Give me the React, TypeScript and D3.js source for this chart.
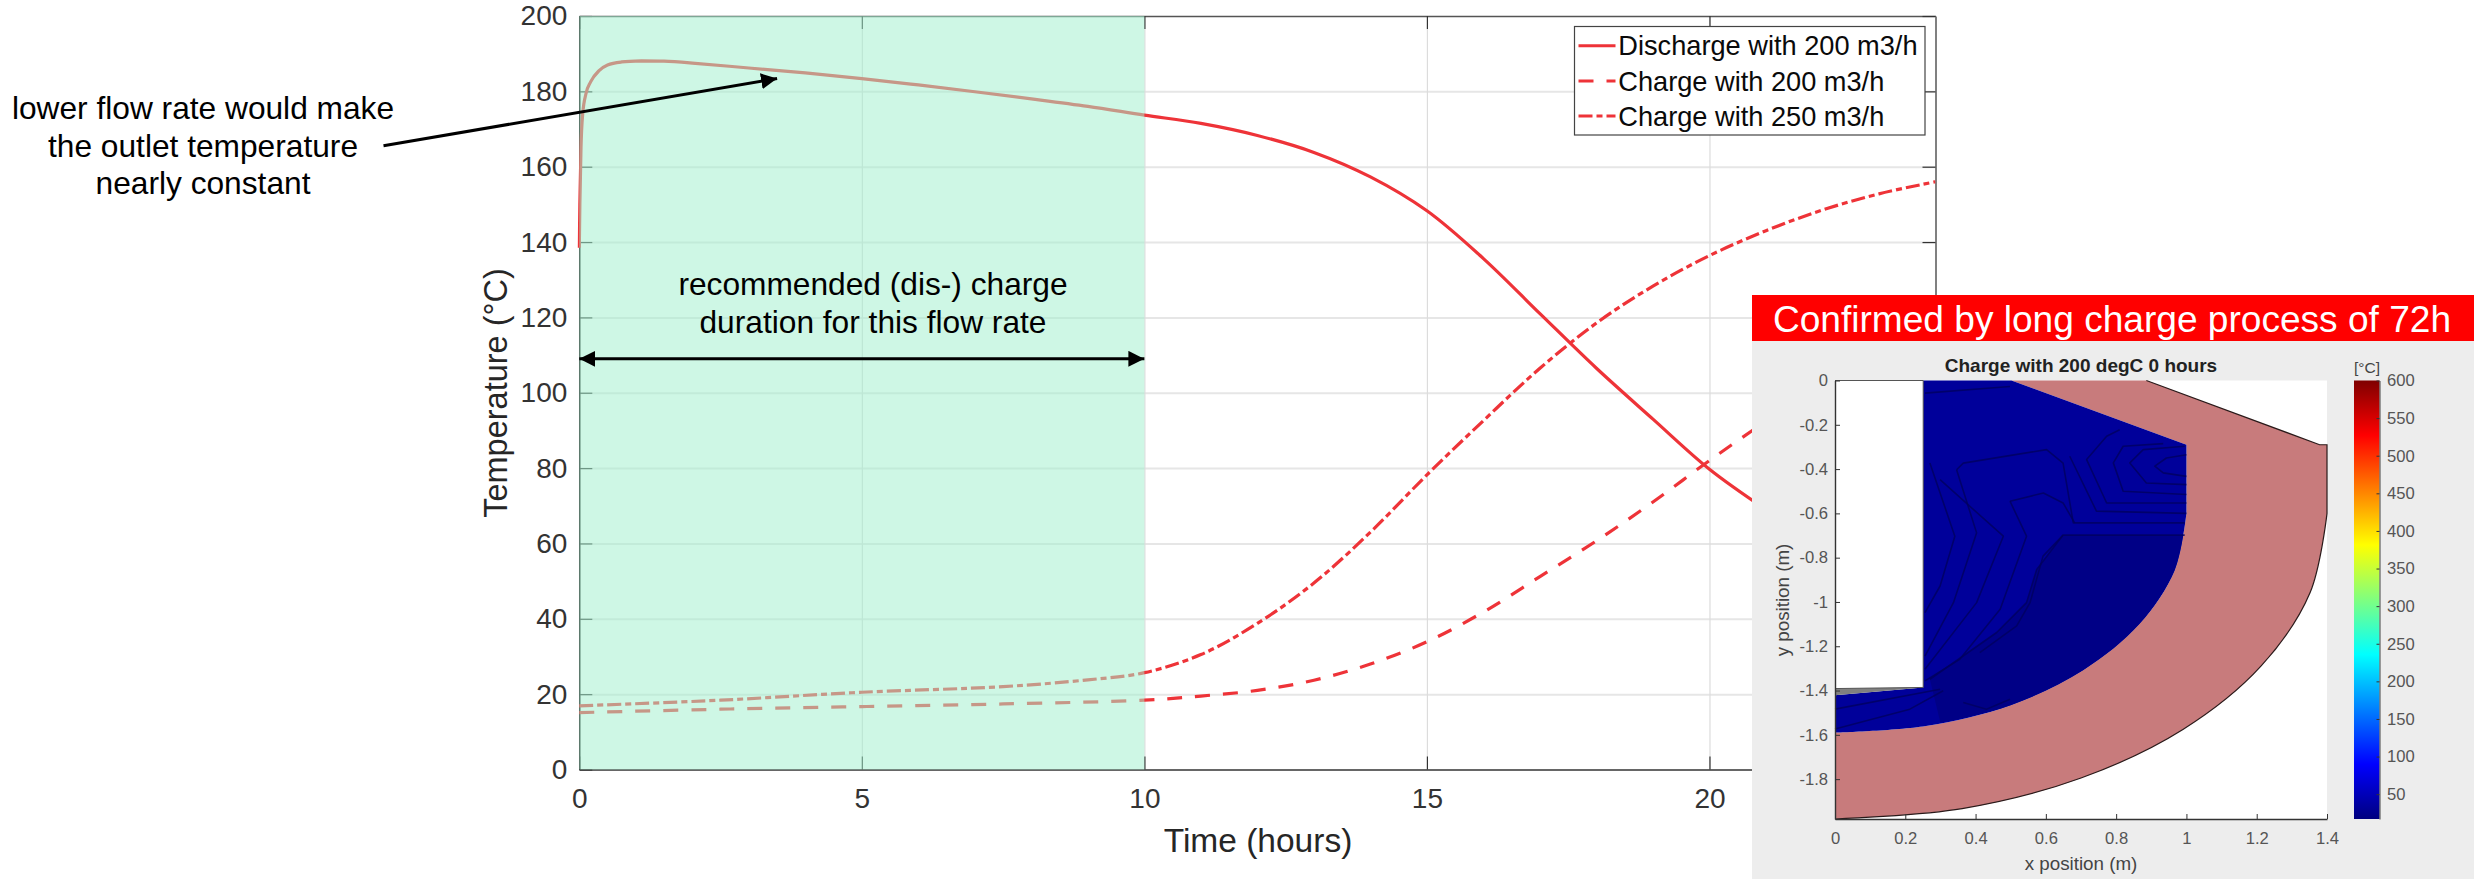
import React, { useEffect, useRef } from 'react'
import * as d3 from 'd3'

type Pt = [number, number]

const xTicks = [0, 5, 10, 15, 20]
const yTicks = [0, 20, 40, 60, 80, 100, 120, 140, 160, 180, 200]

// [hours, degC]
const dischargeRise: Pt[] = [
  [0, 138.5], [0.01, 150], [0.03, 165], [0.06, 174], [0.12, 179.5], [0.2, 182.5], [0.35, 185.5], [0.5, 187],
  [0.75, 187.8], [1.1, 188.1],
]
const dischargeFall: Pt[] = [
  [1.1, 188.1], [1.5, 188], [2, 187.5], [3, 186.2], [4, 184.9], [5, 183.4], [6, 181.7], [7, 179.9],
  [8, 178], [9, 176], [10, 173.7], [11, 171.5], [12, 168.3], [13, 163.8], [14, 157.3], [15, 148.3],
  [16, 135.6], [17, 121], [18, 106.5], [19, 93], [20, 79.7], [21, 69],
]
const charge200: Pt[] = [
  [0, 15.1], [2.5, 16], [5, 16.7], [7.5, 17.4], [10, 18.4], [11, 19.5], [12, 21], [13, 23.7],
  [14, 28], [15, 33.9], [16, 41.8], [17, 51.2], [18, 60.7], [19, 71], [20, 82], [21, 92.5],
]
const charge250: Pt[] = [
  [0, 16.9], [2.5, 18.4], [5, 20.5], [7.5, 22], [9, 23.8], [10, 25.7], [11, 30.5], [12, 38.8],
  [13, 49.5], [14, 63], [15, 78.2], [16, 92.6], [17, 106.5], [18, 118.5], [19, 128.3], [20, 136.4],
  [21, 143], [22, 148.5], [23, 152.8], [24, 156],
]
const legendNames = ['Discharge with 200 m3/h', 'Charge with 200 m3/h', 'Charge with 250 m3/h']
const dashes = ['none', '15 13', '14 4 6 4']

const noteLeft = ['lower flow rate would make', 'the outlet temperature', 'nearly constant']
const noteRange = ['recommended (dis-) charge', 'duration for this flow rate']
const rangeHours: [number, number] = [0, 10]

// inset: cross-section in metres
const insetXTicks = [0, 0.2, 0.4, 0.6, 0.8, 1, 1.2, 1.4]
const insetYTicks = [0, -0.2, -0.4, -0.6, -0.8, -1, -1.2, -1.4, -1.6, -1.8]
const barTicks = [50, 100, 150, 200, 250, 300, 350, 400, 450, 500, 550, 600]
const jet = ['#00007f', '#0000ff', '#00ffff', '#ffff00', '#ff0000', '#7f0000']
const jetAt = [0, 0.125, 0.375, 0.625, 0.875, 1]

const outerArc: Pt[] = [
  [0, -1.98], [0.362, -1.933], [0.7, -1.795], [0.99, -1.576], [1.212, -1.29], [1.352, -0.957], [1.4, -0.6],
]
const outerTop: Pt[] = [[1.4, -0.29], [1.379, -0.29], [0.886, 0], [0.502, 0], [1, -0.29]]
const innerArc: Pt[] = [
  [1, -0.6], [0.966, -0.859], [0.866, -1.1], [0.707, -1.307], [0.5, -1.466], [0.259, -1.56], [0, -1.59],
]
const coreLeft: Pt[] = [[0, -1.421], [0.251, -1.386], [0.251, 0], [0.502, 0], [1, -0.29], [1, -0.6]]
const coldArc: Pt[] = [[0.991, -0.698], [0.966, -0.859], [0.866, -1.1], [0.707, -1.307], [0.5, -1.466], [0.3, -1.545]]
const coldEdge: Pt[] = [
  [0.27, -1.349], [0.46, -1.138], [0.545, -1.003], [0.574, -0.853], [0.649, -0.698], [0.991, -0.698],
]
const sliver: Pt[] = [[0, -1.391], [0.251, -1.386], [0, -1.421]]
const contours: Pt[][] = [
  [[0.346, -0.403], [0.365, -0.373], [0.602, -0.312], [0.649, -0.373], [0.678, -0.643], [0.995, -0.643]],
  [[0.995, -0.698], [0.649, -0.698], [0.574, -0.853], [0.545, -1.003], [0.46, -1.138], [0.27, -1.349]],
  [[0.498, -0.545], [0.593, -0.508], [0.649, -0.553], [0.682, -0.643]],
  [[0.498, -0.545], [0.545, -0.703], [0.47, -1.033], [0.355, -1.259], [0.256, -1.356]],
  [[0.346, -0.403], [0.403, -0.688], [0.337, -1.003], [0.256, -1.244]],
  [[0.27, -0.373], [0.341, -0.703], [0.299, -0.928], [0.256, -1.048]],
  [[0.299, -0.448], [0.479, -0.703], [0.403, -1.003], [0.256, -1.304]],
  [[0.649, -0.698], [0.592, -0.793], [0.555, -1.003], [0.517, -1.108], [0.412, -1.229]],
  [[1, -0.553], [0.773, -0.553], [0.716, -0.357], [0.773, -0.252], [0.81, -0.222]],
  [[1, -0.515], [0.82, -0.5], [0.792, -0.372], [0.82, -0.297], [0.934, -0.285]],
  [[1, -0.47], [0.886, -0.463], [0.839, -0.372], [0.877, -0.312], [0.995, -0.297]],
  [[1, -0.433], [0.934, -0.417], [0.91, -0.387], [0.943, -0.35], [1, -0.335]],
  [[1, -0.6], [0.744, -0.59], [0.668, -0.342]],
  [[0.256, -0.057], [0.498, -0.027]],
  [[0, -1.574], [0.213, -1.484], [0.308, -1.401]],
  [[0, -1.484], [0.299, -1.394]],
  [[0.365, -1.454], [0.431, -1.484], [0.498, -1.439]],
]

const RED = '#ee3338'
const FONT = '"Liberation Sans", Arial, sans-serif'

export default function App() {
  const ref = useRef<SVGSVGElement>(null)

  useEffect(() => {
    const svg = d3.select(ref.current)
    svg.selectAll('*').remove()
    svg.style('font-family', FONT)

    const x = d3.scaleLinear().domain([0, 24]).range([579.3, 1935.5])
    const y = d3.scaleLinear().domain([0, 200]).range([769.5, 16])
    const w = x.range()[1] - x.range()[0]
    const h = y.range()[0] - y.range()[1]
    const joined = (p: string | null) => (p || '').replace(/^M/, 'L')

    const defs = svg.append('defs')
    defs.append('clipPath').attr('id', 'plot').append('rect')
      .attr('x', x(0) - 2).attr('y', y(200)).attr('width', w + 2).attr('height', h)
    const marker = (id: string, orient: string) =>
      defs.append('marker').attr('id', id).attr('viewBox', '0 0 16 16').attr('refX', 16).attr('refY', 8)
        .attr('markerWidth', 16).attr('markerHeight', 16).attr('markerUnits', 'userSpaceOnUse')
        .attr('orient', orient)
        .append('path').attr('d', 'M0,0L16,8L0,16Z').attr('fill', '#000')
    marker('head', 'auto')
    marker('headBoth', 'auto-start-reverse')

    // grid
    svg.append('g').attr('transform', `translate(${x(0)},0)`)
      .call(d3.axisLeft(y).tickValues(yTicks.slice(1, -1)).tickSize(-w).tickFormat(() => ''))
      .call(g => g.select('.domain').remove())
      .call(g => g.selectAll('line').attr('stroke', '#e6e6e6').attr('stroke-width', 2))
    svg.append('g').attr('transform', `translate(0,${y(0)})`)
      .call(d3.axisBottom(x).tickValues(xTicks.slice(1)).tickSize(-h).tickFormat(() => ''))
      .call(g => g.select('.domain').remove())
      .call(g => g.selectAll('line').attr('stroke', '#dcdcdc').attr('stroke-width', 1.2))

    // axes
    const styleAxis = (g: any, color: string, width: number) => {
      g.select('.domain').attr('stroke', color).attr('stroke-width', width)
      g.selectAll('line').attr('stroke', '#333').attr('stroke-width', 1.2)
      g.selectAll('text').attr('font-size', 28).attr('font-family', FONT).attr('fill', '#333')
    }
    svg.append('g').attr('transform', `translate(0,${y(0)})`)
      .call(d3.axisBottom(x).tickValues(xTicks).tickSizeInner(-13).tickSizeOuter(0).tickPadding(18.6))
      .call(styleAxis, '#333', 1.6)
    svg.append('g').attr('transform', `translate(${x(0)},0)`)
      .call(d3.axisLeft(y).tickValues(yTicks).tickSizeInner(-13).tickSizeOuter(0).tickPadding(12))
      .call(styleAxis, '#333', 1.6)
    svg.append('g').attr('transform', `translate(0,${y(200)})`)
      .call(d3.axisTop(x).tickValues(xTicks).tickSizeInner(-13).tickSizeOuter(0).tickFormat(() => ''))
      .call(styleAxis, '#555', 1.4)
    svg.append('g').attr('transform', `translate(${x(24)},0)`)
      .call(d3.axisRight(y).tickValues(yTicks).tickSizeInner(-13).tickSizeOuter(0).tickFormat(() => ''))
      .call(styleAxis, '#808080', 2)

    // curves
    const rise = d3.line<Pt>().x(d => x(d[0])).y(d => y(d[1])).curve(d3.curveMonotoneX)
    const smooth = d3.line<Pt>().x(d => x(d[0])).y(d => y(d[1])).curve(d3.curveCatmullRom)
    const curves = svg.append('g').attr('clip-path', 'url(#plot)')
    const paths = [rise(dischargeRise) + joined(smooth(dischargeFall)), smooth(charge200), smooth(charge250)]
    paths.forEach((d, i) => {
      curves.append('path').attr('d', d).attr('fill', 'none').attr('stroke', RED)
        .attr('stroke-width', 3.2).attr('stroke-dasharray', dashes[i])
    })

    svg.append('text').attr('x', 1258).attr('y', 851.5).attr('text-anchor', 'middle')
      .attr('font-size', 33.5).attr('fill', '#262626').text('Time (hours)')
    svg.append('text').attr('transform', 'translate(507,393) rotate(-90)').attr('text-anchor', 'middle')
      .attr('font-size', 32.5).attr('fill', '#262626').text('Temperature (°C)')

    // recommended range, laid over the curves
    svg.append('rect').attr('x', x(rangeHours[0])).attr('y', y(200))
      .attr('width', x(rangeHours[1]) - x(rangeHours[0])).attr('height', h)
      .attr('fill', 'rgb(162,240,206)').attr('fill-opacity', 0.53)

    noteRange.forEach((t, i) => {
      svg.append('text').attr('x', 873).attr('y', 295 + i * 38).attr('text-anchor', 'middle')
        .attr('font-size', 31.7).attr('fill', '#000').text(t)
    })
    svg.append('line').attr('x1', x(rangeHours[0])).attr('x2', x(rangeHours[1])).attr('y1', y(109)).attr('y2', y(109))
      .attr('stroke', '#000').attr('stroke-width', 3)
      .attr('marker-start', 'url(#headBoth)').attr('marker-end', 'url(#headBoth)')

    noteLeft.forEach((t, i) => {
      svg.append('text').attr('x', 203).attr('y', 119 + i * 37.7).attr('text-anchor', 'middle')
        .attr('font-size', 31.7).attr('fill', '#000').text(t)
    })
    svg.append('line').attr('x1', 383.5).attr('y1', 145.7).attr('x2', x(3.5)).attr('y2', y(183.4))
      .attr('stroke', '#000').attr('stroke-width', 3).attr('marker-end', 'url(#head)')

    // legend
    const lg = svg.append('g')
    lg.append('rect').attr('x', 1574.5).attr('y', 26.5).attr('width', 350.5).attr('height', 108.5)
      .attr('fill', '#fff').attr('stroke', '#444').attr('stroke-width', 1.2)
    legendNames.forEach((name, i) => {
      const ly = 45.7 + i * 35.2
      lg.append('line').attr('x1', 1578.5).attr('x2', 1615.5).attr('y1', ly).attr('y2', ly)
        .attr('stroke', RED).attr('stroke-width', 3).attr('stroke-dasharray', dashes[i])
      lg.append('text').attr('x', 1618.3).attr('y', ly + 9.6).attr('font-size', 27.2).attr('fill', '#0a0a0a').text(name)
    })

    // inset panel
    const ix = d3.scaleLinear().domain([0, 1.4]).range([1835, 2327])
    const iy = d3.scaleLinear().domain([0, -1.98]).range([380.5, 819])
    const inset = svg.append('g')
    inset.append('rect').attr('x', 1752).attr('y', 295).attr('width', 722).attr('height', 584).attr('fill', '#ededed')
    inset.append('rect').attr('x', 1752).attr('y', 295).attr('width', 722).attr('height', 46).attr('fill', '#ff0000')
    inset.append('text').attr('x', 2112).attr('y', 331.5).attr('text-anchor', 'middle')
      .attr('font-size', 37.1).attr('fill', '#fff').text('Confirmed by long charge process of 72h')
    inset.append('rect').attr('x', ix(0)).attr('y', iy(0)).attr('width', ix(1.4) - ix(0)).attr('height', iy(-1.98) - iy(0))
      .attr('fill', '#fff')

    const straight = d3.line<Pt>().x(d => ix(d[0])).y(d => iy(d[1]))
    const bent = d3.line<Pt>().x(d => ix(d[0])).y(d => iy(d[1])).curve(d3.curveCatmullRom)

    inset.append('path').attr('d', bent(outerArc) + joined(straight(outerTop)) + joined(bent(innerArc)) + 'Z')
      .attr('fill', '#c87b7c')
    inset.append('path').attr('d', bent(innerArc) + joined(straight(coreLeft)) + 'Z').attr('fill', '#00009a')
    inset.append('path').attr('d', bent(coldArc) + joined(straight(coldEdge)) + 'Z').attr('fill', '#000086')
    inset.append('path').attr('d', straight(sliver) + 'Z').attr('fill', '#808080')
    contours.forEach(c => {
      inset.append('path').attr('d', straight(c)).attr('fill', 'none').attr('stroke', '#00005f')
        .attr('stroke-width', 1.6).attr('stroke-linejoin', 'round').attr('opacity', 0.8)
    })
    inset.append('path').attr('d', bent(outerArc) + joined(straight(outerTop.slice(0, 3)))).attr('fill', 'none')
      .attr('stroke', '#2a1a1a').attr('stroke-width', 1.2)
    inset.append('path').attr('d', straight([[0, -1.391], [0.251, -1.386], [0.251, 0], [0, 0]])).attr('fill', 'none')
      .attr('stroke', '#555').attr('stroke-width', 1)

    const styleInset = (g: any) => {
      g.select('.domain').attr('stroke', '#333').attr('stroke-width', 1.4)
      g.selectAll('line').attr('stroke', '#333')
      g.selectAll('text').attr('font-size', 16.6).attr('font-family', FONT).attr('fill', '#555')
    }
    inset.append('g').attr('transform', `translate(0,${iy(-1.98)})`)
      .call(d3.axisBottom(ix).tickValues(insetXTicks).tickSizeInner(-5).tickSizeOuter(0).tickPadding(13)
        .tickFormat(d => String(d)))
      .call(styleInset)
    inset.append('g').attr('transform', `translate(${ix(0)},0)`)
      .call(d3.axisLeft(iy).tickValues(insetYTicks).tickSizeInner(-5).tickSizeOuter(0).tickPadding(7)
        .tickFormat(d => String(d)))
      .call(styleInset)
    inset.append('text').attr('x', 2081).attr('y', 371.7).attr('text-anchor', 'middle').attr('font-size', 19)
      .attr('font-weight', 'bold').attr('fill', '#222').text('Charge with 200 degC 0 hours')
    inset.append('text').attr('x', 2081).attr('y', 870).attr('text-anchor', 'middle').attr('font-size', 18.8)
      .attr('fill', '#444').text('x position (m)')
    inset.append('text').attr('transform', 'translate(1789,600) rotate(-90)').attr('text-anchor', 'middle')
      .attr('font-size', 18.8).attr('fill', '#444').text('y position (m)')

    // colour bar
    const cb = d3.scaleLinear().domain([17, 600]).range([819, 380.5])
    const grad = defs.append('linearGradient').attr('id', 'jet').attr('x1', 0).attr('x2', 0).attr('y1', 1).attr('y2', 0)
    jet.forEach((c, i) => grad.append('stop').attr('offset', jetAt[i]).attr('stop-color', c))
    inset.append('rect').attr('x', 2354).attr('y', cb(600)).attr('width', 25.5).attr('height', cb(17) - cb(600))
      .attr('fill', 'url(#jet)')
    inset.append('g').attr('transform', 'translate(2379.5,0)')
      .call(d3.axisRight(cb).tickValues(barTicks).tickSizeInner(-3).tickSizeOuter(0).tickPadding(7.5))
      .call(styleInset)
      .call(g => g.select('.domain').attr('stroke', '#444').attr('stroke-width', 1))
    inset.append('text').attr('x', 2367).attr('y', 373).attr('text-anchor', 'middle').attr('font-size', 15.5)
      .attr('fill', '#444').text('[°C]')
  }, [])

  return <svg ref={ref} width={2474} height={879} style={{ position: 'absolute', left: 0, top: 0, background: '#fff' }} />
}
